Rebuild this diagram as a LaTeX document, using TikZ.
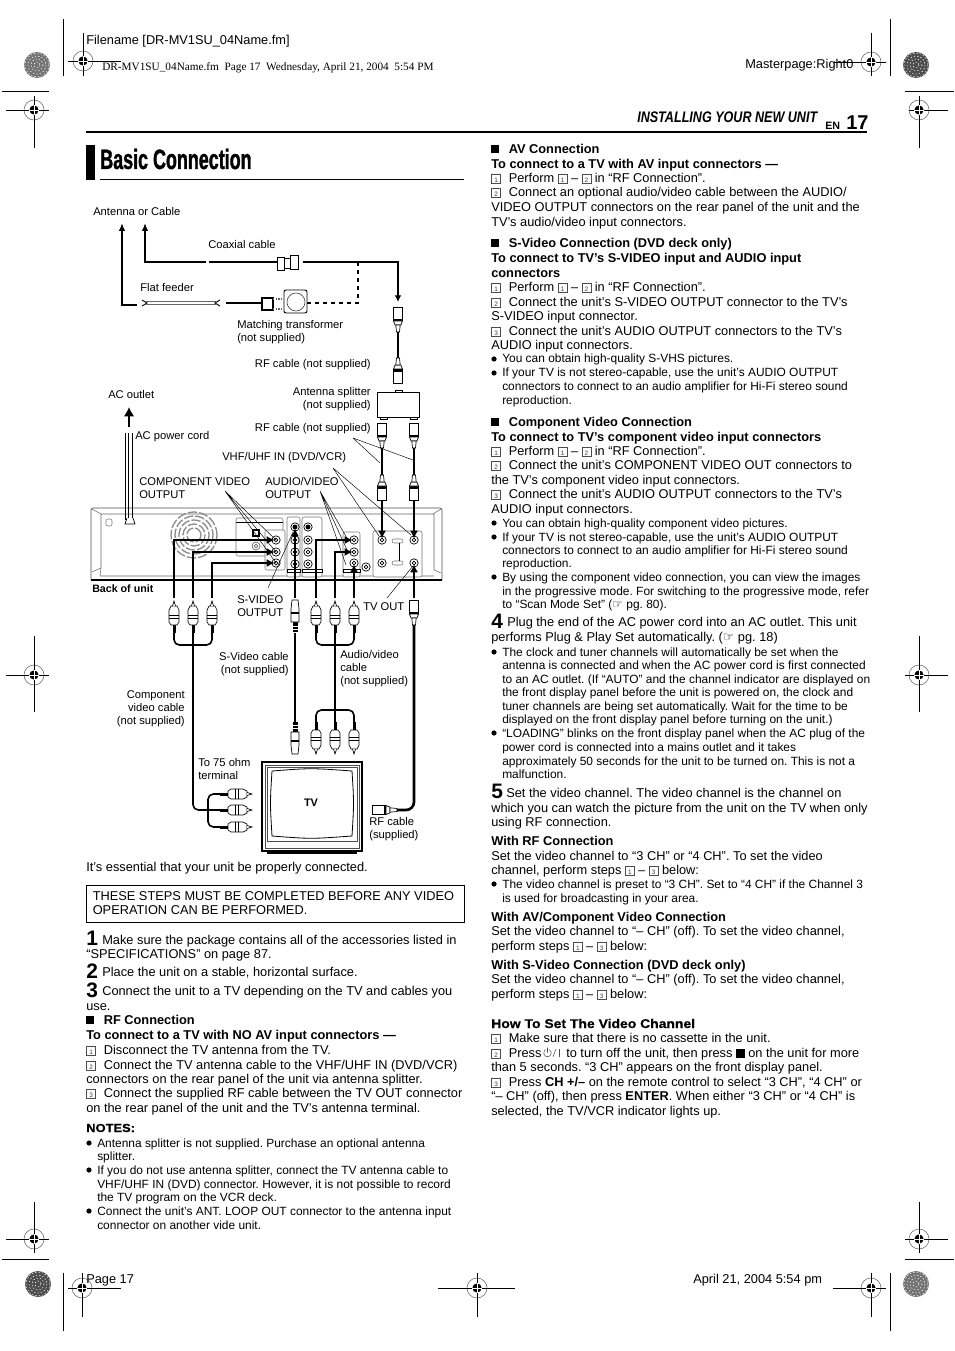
\documentclass[tikz,border=0pt]{standalone}
\usepackage{fontspec}
\setmainfont{Liberation Sans}
\newfontfamily\symfont{DejaVu Sans}
\newfontfamily\serfont{Liberation Serif}
\newfontfamily\condfont[FakeStretch=0.64,BoldFeatures={FakeBold=1.2}]{Liberation Sans}
\newfontfamily\condifont[FakeStretch=0.82]{Liberation Sans}
\newfontfamily\widefont[FakeStretch=1.1,BoldFeatures={FakeBold=0.5}]{Liberation Sans}
\usetikzlibrary{arrows.meta}
\frenchspacing

\newcounter{lineno}
\tikzset{
    bodytext/.style={anchor=base west, inner sep=0pt, font=\fontsize{9.6}{11}\selectfont},
    smalltext/.style={anchor=base west, inner sep=0pt, font=\fontsize{8.95}{10}\selectfont},
    lab/.style={inner sep=0pt, yshift=-0.75pt, font=\fontsize{8.4}{9.75}\selectfont},
    part/.style={line width=0.5pt, fill=white},
    panel/.style={line width=0.4pt, draw=black!55, rounded corners=1.5pt},
    leader/.style={line width=0.35pt},
    cropline/.style={line width=0.6pt},
    feed/.style={line width=1.2pt, -{Latex[length=6pt,width=6pt]}, shorten >=1pt},
    cable/.style={line width=1.2pt, rounded corners=4pt},
    rfcable/.style={line width=2pt, rounded corners=6pt},
    rfplug/.pic={
        \draw[part] (-4.7,-25) rectangle (4.7,-13);
        \fill (-5,-13) rectangle (5,-11);
        \draw[part] (-4.5,-11) -- (-3,-7) -- (3,-7) -- (4.5,-11) -- cycle;
        \draw[part] (-2.2,-7) -- (-1.5,0) -- (1.5,0) -- (2.2,-7) -- cycle;
    },
    rcaplug/.pic={
        \fill (-1.5,0) rectangle (1.5,-8);
        \draw[part] (-3,-8) -- (-5,-11) -- (-5,-23) -- (-3,-27) -- (3,-27) -- (5,-23) -- (5,-11) -- (3,-8) -- cycle;
        \draw[line width=0.5pt] (-5,-15) -- (5,-15) (-5,-18) -- (5,-18);
        \draw[part] (-1.5,-27) -- (0,-32) -- (1.5,-27);
    },
    splug/.pic={
        \fill (-2.5,0) rectangle (2.5,-10);
        \foreach \yy in {-3,-6} \draw[white,line width=0.5pt] (-2.5,\yy) -- (2.5,\yy);
        \draw[part] (-4,-10) -- (-4,-23) -- (-3,-32) -- (3,-32) -- (4,-23) -- (4,-10) -- cycle;
        \fill (-4,-20) rectangle (4,-18);
    },
    jack/.pic={
        \draw[line width=0.5pt, fill=white] (0,0) circle[radius=4.2];
        \draw[line width=0.5pt] (0,0) circle[radius=1.8];
    },
    target/.pic={
        \draw[line width=0.4pt, black!60] (0,0) circle[radius=10];
        \fill (0,0) circle[radius=4.6];
    }
}

\newcommand\pageline[3]{\stepcounter{lineno}\node[bodytext] (line\arabic{lineno}) at ({#1},{#2+4.5}) {#3};}
\newcommand\boldline[3]{\pageline{#1}{#2}{\bfseries #3}}
\newcommand\numbox[1]{\raisebox{-0.7pt}{\fboxsep=0pt\fboxrule=0.3pt\fcolorbox{black!70}{white}{\makebox[6.6pt][c]{\rule{0pt}{6.6pt}\raisebox{1pt}{\fontsize{4.8}{5}\selectfont\color{black!75}#1}}}}}
\newcommand\numline[4]{\pageline{#1}{#2}{\numbox{#3}}\pageline{#1+17.5}{#2}{#4}}
\newcommand\secline[3]{\fill ({#1},{#2-4}) rectangle ({#1+8},{#2+4});\pageline{#1+17.5}{#2}{\bfseries #3}}
\newcommand\smallline[3]{\stepcounter{lineno}\node[smalltext] (line\arabic{lineno}) at ({#1},{#2+4}) {#3};}
\newcommand\bulline[3]{\fill ({#1+3},{#2}) circle[radius=2.6];\smallline{#1+11}{#2}{#3}}
\newcommand\bigdigit[3]{\stepcounter{lineno}\node[anchor=base west, inner sep=0pt, font=\bfseries\fontsize{15.7}{16}\selectfont] (line\arabic{lineno}) at (#1,#2) {#3};}

\begin{document}
\begin{tikzpicture}[x=0.75pt,y=-0.75pt]
    \useasboundingbox (0,0) rectangle (954,1351);

    % crop marks
    \foreach \cx/\cy/\xa/\xb/\ya/\yb in {83/61/68/121/33/76, 34/110/6/49/96/148, 871/62/833/886/33/76, 919/110/909/948/96/148, 34/675/6/49/636/712, 919/675/905/948/636/712, 34/1239/6/49/1202/1253, 919/1239/905/948/1202/1253, 82/1288/68/121/1273/1317, 477/1288/438/515/1273/1317, 871/1288/833/886/1273/1317} {
        \pic at (\cx,\cy) {target};
        \draw[cropline] (\xa,\cy) -- (\xb,\cy) (\cx,\ya) -- (\cx,\yb);
        \draw[white, line width=0.35pt] (\cx-4.6,\cy) -- (\cx+4.6,\cy) (\cx,\cy-4.6) -- (\cx,\cy+4.6);
    }
    \draw[cropline] (63,19) -- (63,76) (890,19) -- (890,76) (63,1273) -- (63,1331) (890,1273) -- (890,1331);
    \draw[cropline] (2,91) -- (49,91) (905,91) -- (954,91) (2,1259) -- (49,1259) (905,1259) -- (954,1259);
    \foreach \cx/\cy/\gr in {37/65/55, 916/65/70, 38/1284/70, 916/1284/55} {
        \fill[black!\gr] (\cx,\cy) circle[radius=13];
        \foreach \rr in {3,6,9,12} \draw[white, line width=0.4pt, dash pattern=on 1pt off 1.5pt] (\cx,\cy) circle[radius=\rr];
    }

    % header and footer
    \pageline{86}{40}{Filename [DR-MV1SU\_04Name.fm]}
    \stepcounter{lineno}
    \node[anchor=base west, inner sep=0pt, font=\serfont\fontsize{8.45}{9}\selectfont] (line\arabic{lineno}) at (102,71) {DR-MV1SU\_04Name.fm\ \ Page 17\ \ Wednesday, April 21, 2004\ \ 5:54 PM};
    \pageline{745}{64}{Masterpage:Right0}
    \pageline{86}{1279}{Page 17}
    \pageline{693}{1279}{April 21, 2004 5:54 pm}
    \node[anchor=base west, inner sep=0pt, font=\condifont\bfseries\itshape\fontsize{11.5}{12}\selectfont] (runhead) at (637,123) {INSTALLING YOUR NEW UNIT};
    \node[anchor=base west, inner sep=0pt, font=\bfseries\fontsize{8}{8}\selectfont] (enmark) at (825,130) {EN};
    \node[anchor=base west, inner sep=0pt, font=\bfseries\fontsize{15}{16}\selectfont] (pagenum) at (846,130) {17};
    \draw[line width=1.5pt] (86,132) -- (867,132);

    % title
    \fill (86,145) rectangle (95,180);
    \node[anchor=base west, inner sep=0pt, font=\condfont\bfseries\fontsize{21}{22}\selectfont] (title) at (100,169) {Basic Connection};
    \draw[line width=0.6pt] (100,179.5) -- (464,179.5);

    % antenna side
    \coordinate (antA) at (122,223);
    \coordinate (antB) at (145,223);
    \coordinate (feederL) at (137,305);
    \coordinate (coaxL) at (206,262);
    \coordinate (coaxR) at (398,302);
    \coordinate (dashA) at (358,262);
    \coordinate (dashB) at (307,303);
    \node[lab, anchor=west] (antlabel) at (93,211) {Antenna or Cable};
    \node[lab, anchor=west] (coaxlabel) at (208,243) {Coaxial cable};
    \node[lab, anchor=west] (flatlabel) at (140,286) {Flat feeder};
    \node[lab, anchor=north west, align=left] (matchlabel) at (237,319) {Matching transformer\\(not supplied)};
    \node[lab, anchor=east] (rflabelA) at (371,364) {RF cable (not supplied)};
    \node[lab, anchor=north east, align=right] (splitlabel) at (371,386) {Antenna splitter\\(not supplied)};
    \node[lab, anchor=east] (rflabelB) at (371,428) {RF cable (not supplied)};
    \node[lab, anchor=west] (vhflabel) at (222,457) {VHF/UHF IN (DVD/VCR)};
    \draw[line width=1.2pt, -{Latex[length=6pt,width=5pt]}] (feederL) -| (antA);
    \draw[line width=1.2pt, -{Latex[length=6pt,width=5pt]}] (coaxL) -| (antB);
    \draw[line width=2pt] (209,262) -- (277,262);
    \draw[part, line width=0.6pt] (277,257) rectangle (284,270) (284,258) rectangle (290,268) (290,255) rectangle (298,269);
    \draw[line width=0.9pt, -{Latex[length=5pt,width=5pt]}] (303,262) -| (coaxR);
    \draw[line width=1.1pt, dashed] (dashA) |- (dashB);
    \draw[black!60, line width=2.4pt] (146,303) -- (216,303);
    \draw[white, line width=0.9pt] (146,303) -- (216,303);
    \draw[line width=0.7pt] (142,300) -- (147,303) -- (142,306) (220,300) -- (215,303) -- (220,306);
    \draw[line width=2pt] (226,303) -- (262,303);
    \draw[line width=1.4pt, fill=white] (262,298) rectangle (273,310);
    \draw[black!60, line width=1.6pt, dash pattern=on 1pt off 1pt] (273,299) -- (285,299) (273,309) -- (285,309);
    \draw[part, line width=0.7pt, rounded corners=1.5pt] (284,290) rectangle (307,313);
    \draw[line width=0.5pt, black!70] (296,302) circle[radius=9];
    \pic at (398,332) {rfplug};
    \draw[line width=2pt] (398,332) -- (398,358);
    \pic[rotate=180] at (398,358) {rfplug};
    \draw[part, line width=0.6pt] (377,392) rectangle (419,417);
    \draw[part] (395,390) rectangle (402,392) (380,417) rectangle (387,419) (410,417) rectangle (417,419);
    \foreach \xx in {382,414} {
        \pic at (\xx,448) {rfplug};
        \draw[line width=2pt] (\xx,448) -- (\xx,475);
        \pic[rotate=180] at (\xx,475) {rfplug};
    }

    % back of unit
    \draw[line width=0.5pt, black!70, rounded corners=1.5pt] (91,580) -- (91,508) -- (442,508) -- (442,580);
    \draw[line width=0.8pt] (91,580) -- (442,580);
    \draw[line width=0.4pt, black!60] (92,509) -- (101,514) -- (101,568) -- (92,572) (101,514) -- (434,514) -- (434,570) -- (441,573) (433,514) -- (441,509) (101,568) -- (100,576) -- (434,576);
    \draw[panel] (106,519) rectangle (112,526);
    \foreach \rr in {7,11,15,19,23} \draw[black!45, line width=1pt, dash pattern=on 7pt off 1.5pt] (194,535) circle[radius=\rr];
    \draw[panel, fill=white] (236,518) rectangle (283,556);
    \draw[panel, fill=white] (265,530) rectangle (285,570);
    \draw[line width=0.6pt] (236,522) -- (283,522);
    \draw[line width=1.3pt, fill=white] (253,530) rectangle (259,536);
    \draw[line width=0.5pt, black!60] (256,546) circle[radius=4] (256,546) circle[radius=1.8];
    \draw[panel, fill=white] (287,517) rectangle (300,577);
    \draw[panel, fill=white] (302,517) rectangle (322,577);
    \draw[panel, fill=white] (343,532) rectangle (360,577);
    \draw[panel, fill=white] (373,531) rectangle (422,577);
    \draw[line width=0.5pt, fill=white] (287,569) rectangle (300,572) (302,569) rectangle (322,572) (343,569) rectangle (360,572);
    \foreach \nm/\xx/\yy in {compjackA/276/540, compjackB/276/552, compjackC/276/563, svideojack/295/527, sjackB/308/527, avjackA/354/540, avjackB/354/552, avjackC/354/563, rfjackA/382/540, rfjackB/414/540, rfjackC/382/563, rfjackD/414/563, colA/295/540, colB/295/552, colC/295/564, colD/308/540, colE/308/552, colF/308/564, auxjack/366/567} {
        \coordinate (\nm) at (\xx,\yy);
        \pic at (\nm) {jack};
    }
    \fill (svideojack) circle[radius=2.4];
    \fill (sjackB) circle[radius=2.4];
    \draw[panel] (392,539) rectangle (403,543) (392,561) rectangle (403,565);
    \draw[line width=0.5pt] (399,543) -- (399,561);
    \draw[line width=0.4pt] (125.5,433) -- (125.5,520) (128.5,433) -- (128.5,520) (132.6,433) -- (132.6,520);
    \draw[part, line width=0.5pt] (127,518) -- (125,524) -- (135,524) -- (133,518);
    \draw[line width=1.6pt, -{Latex[length=7pt,width=8pt]}] (129,427) -- (129,407);

    % plugs under the unit
    \foreach \nm/\xx in {compA/174, compB/193, compC/212, audioA/316, audioB/335, audioC/354} {
        \coordinate (\nm) at (\xx,633);
        \coordinate (\nm tip) at (\xx,598);
        \pic at (\nm) {rcaplug};
    }
    \draw[feed] (compAtip) |- (compjackA);
    \draw[feed] (compBtip) |- (compjackB);
    \draw[feed] (compCtip) |- (compjackC);
    \draw[feed] (audioAtip) |- (avjackA);
    \draw[feed] (audioBtip) |- (avjackB);
    \draw[feed] (audioCtip) -- (avjackC);
    \coordinate (splugtop) at (295,632);
    \coordinate (splugtip) at (295,598);
    \coordinate (fplugtop) at (414,625);
    \coordinate (fplugtip) at (414,598);
    \pic at (splugtop) {splug};
    \pic at (fplugtop) {rfplug};
    \draw[feed] (splugtip) -- (svideojack);
    \draw[feed] (fplugtip) -- (rfjackD);
    \draw[feed] (382,501) -- (rfjackA);
    \draw[feed] (414,501) -- (rfjackB);

    % TV
    \coordinate (tvplugA) at (220,794);
    \coordinate (tvplugB) at (220,810);
    \coordinate (tvplugC) at (220,827);
    \coordinate (audiotvA) at (316,722);
    \coordinate (audiotvB) at (335,722);
    \coordinate (audiotvC) at (354,722);
    \coordinate (stvplug) at (295,722);
    \coordinate (rftvplug) at (397,810);
    \foreach \nm in {tvplugA,tvplugB,tvplugC} \pic[rotate=-90] at (\nm) {rcaplug};
    \foreach \nm in {audiotvA,audiotvB,audiotvC} \pic[rotate=180] at (\nm) {rcaplug};
    \pic[rotate=180] at (stvplug) {splug};
    \pic[rotate=90] at (rftvplug) {rfplug};
    \draw[cable] (compA) -- (174,645) -- (212,645) -- (compC);
    \draw[cable] (compB) |- (tvplugB);
    \draw[cable] (tvplugA) -- (208,794) -- (208,827) -- (tvplugC);
    \draw[cable] (audioA) -- (316,645) -- (354,645) -- (audioC);
    \draw[cable] (audioB) -- (audiotvB);
    \draw[cable] (audiotvA) -- (316,710) -- (354,710) -- (audiotvC);
    \draw[cable] (295,633) -- (stvplug);
    \draw[rfcable] (414,625) |- (rftvplug);
    \draw[line width=0.8pt] (262,762) rectangle (362,851);
    \draw[line width=0.4pt, black!70] (265,765) rectangle (359,848) (267,767) rectangle (357,841);
    \fill (267,851) rectangle (357,854);
    \draw[line width=0.6pt, fill=white] (272,771) .. controls (311,768) .. (352,771) .. controls (354,803) .. (352,836) .. controls (311,839) .. (272,836) .. controls (270,803) .. (272,771);
    \node[lab, font=\bfseries\fontsize{8.2}{9.7}\selectfont] (tvlabel) at (311,802) {TV};

    % labels of the lower part
    \node[lab, anchor=west] (acoutlet) at (108,393) {AC outlet};
    \node[lab, anchor=west] (accord) at (135,436) {AC power cord};
    \node[lab, anchor=north west, align=left] (compoutlabel) at (139,476) {COMPONENT VIDEO\\OUTPUT};
    \node[lab, anchor=north west, align=left] (avoutlabel) at (265,476) {AUDIO/VIDEO\\OUTPUT};
    \node[lab, anchor=west, font=\bfseries\fontsize{8}{9.7}\selectfont] (backlabel) at (92,588) {Back of unit};
    \node[lab, anchor=north west, align=left] (svideolabel) at (237,594) {S-VIDEO\\OUTPUT};
    \node[lab, anchor=west] (tvoutlabel) at (363,606) {TV OUT};
    \node[lab, anchor=north east, align=right] (scablelabel) at (289,651) {S-Video cable\\(not supplied)};
    \node[lab, anchor=north west, align=left] (acablelabel) at (340,649) {Audio/video\\cable\\(not supplied)};
    \node[lab, anchor=north east, align=right] (ccablelabel) at (185,689) {Component\\video cable\\(not supplied)};
    \node[lab, anchor=north west, align=left] (ohmlabel) at (198,757) {To 75 ohm\\terminal};
    \node[lab, anchor=north west, align=left] (rftvlabel) at (369,816) {RF cable\\(supplied)};

    % leaders
    \coordinate (rfleader) at (353,438);
    \coordinate (vhfleader) at (333,468);
    \coordinate (compleader) at (225,491);
    \coordinate (avleader) at (320,491);
    \draw[leader] (rfleader) -- (380,463) (rfleader) -- (413,460);
    \draw[leader] (vhfleader) -- (379,536) (vhfleader) -- (411,535);
    \draw[leader] (compleader) -- (compjackA) (compleader) -- (compjackB) (compleader) -- (compjackC);
    \draw[leader] (avleader) -- (348,540) (avleader) -- (348,552) (avleader) -- (346,565);
    \draw[leader] (268,588) -- (293,532);
    \draw[leader] (387,598) -- (413,566);

    % left column
    \pageline{86}{867}{It’s essential that your unit be properly connected.}
    \draw[line width=0.5pt] (86,885) rectangle (464,922);
    \pageline{92.5}{896}{THESE STEPS MUST BE COMPLETED BEFORE ANY VIDEO}
    \pageline{92.5}{910}{OPERATION CAN BE PERFORMED.}
    \bigdigit{86}{945}{1}
    \pageline{102}{940}{Make sure the package contains all of the accessories listed in}
    \pageline{86}{954}{“SPECIFICATIONS” on page 87.}
    \bigdigit{86}{978}{2}
    \pageline{102}{972}{Place the unit on a stable, horizontal surface.}
    \bigdigit{86}{997}{3}
    \pageline{102}{991}{Connect the unit to a TV depending on the TV and cables you}
    \pageline{86}{1006}{use.}
    \secline{86}{1020}{RF Connection}
    \boldline{86}{1035}{To connect to a TV with NO AV input connectors —}
    \numline{86}{1050}{1}{Disconnect the TV antenna from the TV.}
    \numline{86}{1065}{2}{Connect the TV antenna cable to the VHF/UHF IN (DVD/VCR)}
    \pageline{86}{1079}{connectors on the rear panel of the unit via antenna splitter.}
    \numline{86}{1093}{3}{Connect the supplied RF cable between the TV OUT connector}
    \pageline{86}{1108}{on the rear panel of the unit and the TV’s antenna terminal.}
    \stepcounter{lineno}
    \node[anchor=base west, inner sep=0pt, font=\widefont\bfseries\fontsize{8.8}{10}\selectfont] (line\arabic{lineno}) at (86,1132) {NOTES:};
    \bulline{86}{1143}{Antenna splitter is not supplied. Purchase an optional antenna}
    \smallline{97}{1156}{splitter.}
    \bulline{86}{1170}{If you do not use antenna splitter, connect the TV antenna cable to}
    \smallline{97}{1184}{VHF/UHF IN (DVD) connector. However, it is not possible to record}
    \smallline{97}{1197}{the TV program on the VCR deck.}
    \bulline{86}{1211}{Connect the unit’s ANT. LOOP OUT connector to the antenna input}
    \smallline{97}{1225}{connector on another vide unit.}

    % right column
    \secline{491}{149}{AV Connection}
    \boldline{491}{164}{To connect to a TV with AV input connectors —}
    \numline{491}{178}{1}{Perform \numbox{1} – \numbox{2} in “RF Connection”.}
    \numline{491}{192}{2}{Connect an optional audio/video cable between the AUDIO/}
    \pageline{491}{207}{VIDEO OUTPUT connectors on the rear panel of the unit and the}
    \pageline{491}{222}{TV’s audio/video input connectors.}
    \secline{491}{243}{S-Video Connection (DVD deck only)}
    \boldline{491}{258}{To connect to TV’s S-VIDEO input and AUDIO input}
    \boldline{491}{273}{connectors}
    \numline{491}{287}{1}{Perform \numbox{1} – \numbox{2} in “RF Connection”.}
    \numline{491}{302}{2}{Connect the unit’s S-VIDEO OUTPUT connector to the TV’s}
    \pageline{491}{316}{S-VIDEO input connector.}
    \numline{491}{331}{3}{Connect the unit’s AUDIO OUTPUT connectors to the TV’s}
    \pageline{491}{345}{AUDIO input connectors.}
    \bulline{491}{359}{You can obtain high-quality S-VHS pictures.}
    \bulline{491}{373}{If your TV is not stereo-capable, use the unit’s AUDIO OUTPUT}
    \smallline{502}{386}{connectors to connect to an audio amplifier for Hi-Fi stereo sound}
    \smallline{502}{400}{reproduction.}
    \secline{491}{422}{Component Video Connection}
    \boldline{491}{437}{To connect to TV’s component video input connectors}
    \numline{491}{451}{1}{Perform \numbox{1} – \numbox{2} in “RF Connection”.}
    \numline{491}{465}{2}{Connect the unit’s COMPONENT VIDEO OUT connectors to}
    \pageline{491}{480}{the TV’s component video input connectors.}
    \numline{491}{494}{3}{Connect the unit’s AUDIO OUTPUT connectors to the TV’s}
    \pageline{491}{509}{AUDIO input connectors.}
    \bulline{491}{523}{You can obtain high-quality component video pictures.}
    \bulline{491}{537}{If your TV is not stereo-capable, use the unit’s AUDIO OUTPUT}
    \smallline{502}{550}{connectors to connect to an audio amplifier for Hi-Fi stereo sound}
    \smallline{502}{563}{reproduction.}
    \bulline{491}{577}{By using the component video connection, you can view the images}
    \smallline{502}{591}{in the progressive mode. For switching to the progressive mode, refer}
    \smallline{502}{604}{to “Scan Mode Set” ({\symfont ☞} pg. 80).}
    \bigdigit{491}{628}{4}
    \pageline{507}{622}{Plug the end of the AC power cord into an AC outlet. This unit}
    \pageline{491}{637}{performs Plug \& Play Set automatically. ({\symfont ☞} pg. 18)}
    \bulline{491}{652}{The clock and tuner channels will automatically be set when the}
    \smallline{502}{665}{antenna is connected and when the AC power cord is first connected}
    \smallline{502}{679}{to an AC outlet. (If “AUTO” and the channel indicator are displayed on}
    \smallline{502}{692}{the front display panel before the unit is powered on, the clock and}
    \smallline{502}{706}{tuner channels are being set automatically. Wait for the time to be}
    \smallline{502}{719}{displayed on the front display panel before turning on the unit.)}
    \bulline{491}{733}{“LOADING” blinks on the front display panel when the AC plug of the}
    \smallline{502}{747}{power cord is connected into a mains outlet and it takes}
    \smallline{502}{761}{approximately 50 seconds for the unit to be turned on. This is not a}
    \smallline{502}{774}{malfunction.}
    \bigdigit{491}{798}{5}
    \pageline{506}{793}{Set the video channel. The video channel is the channel on}
    \pageline{491}{808}{which you can watch the picture from the unit on the TV when only}
    \pageline{491}{822}{using RF connection.}
    \boldline{491}{841}{With RF Connection}
    \pageline{491}{856}{Set the video channel to “3 CH” or “4 CH”. To set the video}
    \pageline{491}{870}{channel, perform steps \numbox{1} – \numbox{3} below:}
    \bulline{491}{884}{The video channel is preset to “3 CH”. Set to “4 CH” if the Channel 3}
    \smallline{502}{898}{is used for broadcasting in your area.}
    \boldline{491}{917}{With AV/Component Video Connection}
    \pageline{491}{931}{Set the video channel to “– CH” (off). To set the video channel,}
    \pageline{491}{946}{perform steps \numbox{1} – \numbox{3} below:}
    \boldline{491}{965}{With S-Video Connection (DVD deck only)}
    \pageline{491}{979}{Set the video channel to “– CH” (off). To set the video channel,}
    \pageline{491}{994}{perform steps \numbox{1} – \numbox{3} below:}
    \stepcounter{lineno}
    \node[anchor=base west, inner sep=0pt, font=\widefont\bfseries\fontsize{9.5}{11}\selectfont] (line\arabic{lineno}) at (491,1028) {How To Set The Video Channel};
    \numline{491}{1038}{1}{Make sure that there is no cassette in the unit.}
    \numline{491}{1053}{2}{Press}
    \draw[line width=0.4pt, black!70] (549.4,1049.7) arc[start angle=-60, end angle=240, radius=3.8];
    \draw[line width=0.4pt, black!70] (547.5,1047.5) -- (547.5,1052.5) (553,1057) -- (556,1049);
    \draw[line width=0.4pt, black!70] (559,1049) -- (559,1057);
    \pageline{566}{1053}{to turn off the unit, then press \rule{6.5pt}{6.5pt} on the unit for more}
    \pageline{491}{1067}{than 5 seconds. “3 CH” appears on the front display panel.}
    \numline{491}{1082}{3}{Press \textbf{CH +/–} on the remote control to select “3 CH”, “4 CH” or}
    \pageline{491}{1096}{“– CH” (off), then press \textbf{ENTER}. When either “3 CH” or “4 CH” is}
    \pageline{491}{1111}{selected, the TV/VCR indicator lights up.}
\end{tikzpicture}
\end{document}
